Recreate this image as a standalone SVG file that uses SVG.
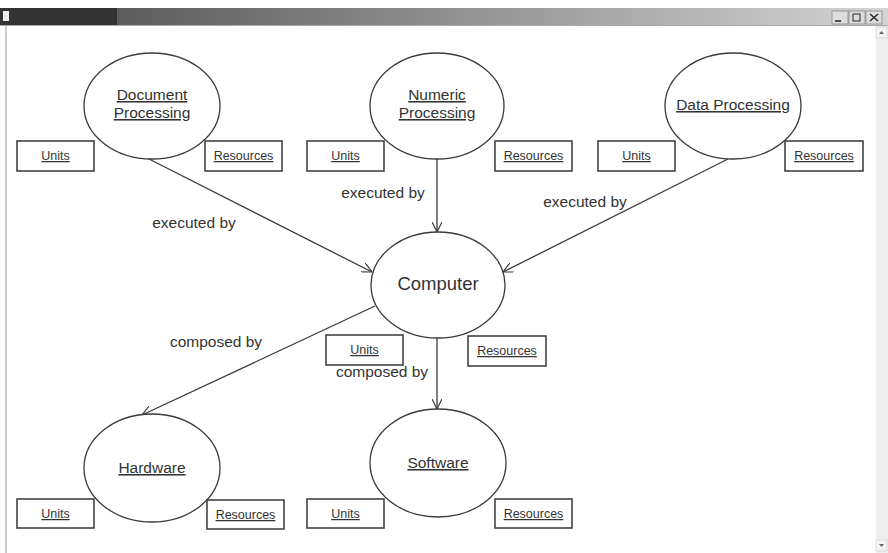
<svg xmlns="http://www.w3.org/2000/svg" width="888" height="553" viewBox="0 0 888 553">
<style>
.n{fill:#fff;stroke:#3a3a3a;stroke-width:1.3}
.b{fill:#fff;stroke:#444;stroke-width:1.6}
.t{font-family:"Liberation Sans",Arial,sans-serif;fill:#333;text-anchor:middle}
.el{font-size:15.5px;text-decoration:underline}
.bl{font-size:12.5px;text-decoration:underline}
.cl{font-size:15.5px}
.c{stroke:#3a3a3a;stroke-width:1.3;fill:none;marker-end:url(#ah)}
</style>
<defs>
<marker id="ah" viewBox="0 0 10 10" refX="10" refY="5" markerWidth="10" markerHeight="10" markerUnits="userSpaceOnUse" orient="auto">
<path d="M0,0 L10,5 L0,10" fill="none" stroke="#3a3a3a" stroke-width="1.2"/>
</marker>
<linearGradient id="tb" x1="0" x2="1" y1="0" y2="0">
<stop offset="0" stop-color="#4a4a4a"/>
<stop offset="1" stop-color="#d4d4d4"/>
</linearGradient>
</defs>
<rect x="0" y="0" width="888" height="553" fill="#fff"/>
<g id="window">
<rect x="0" y="8" width="888" height="17" fill="url(#tb)"/>
<rect x="0" y="8" width="117" height="17" fill="#333"/>
<rect x="3" y="11" width="6" height="10" fill="#eee"/>
<rect x="832" y="11" width="16" height="13" fill="#ddd" stroke="#888" stroke-width="0.8"/>
<rect x="849" y="11" width="16" height="13" fill="#ddd" stroke="#888" stroke-width="0.8"/>
<rect x="866" y="11" width="16" height="13" fill="#ddd" stroke="#888" stroke-width="0.8"/>
<line x1="835" y1="21" x2="841" y2="21" stroke="#222" stroke-width="1.5"/>
<rect x="853" y="14" width="7" height="7" fill="none" stroke="#222" stroke-width="1"/>
<path d="M870,14 L878,21 M878,14 L870,21" stroke="#222" stroke-width="1.4"/>
<line x1="0" y1="25.5" x2="888" y2="25.5" stroke="#aaa" stroke-width="1"/>
<line x1="6" y1="26" x2="6" y2="553" stroke="#aaa" stroke-width="1.2"/>
<rect x="876" y="26" width="12" height="527" fill="#eee"/>
<rect x="876" y="27" width="11" height="11" fill="#f4f4f4" stroke="#ccc" stroke-width="0.6"/>
<path d="M879,34 L881.5,31 L884,34 Z" fill="#666"/>
<rect x="876" y="540" width="11" height="11" fill="#f4f4f4" stroke="#ccc" stroke-width="0.6"/>
<path d="M879,544 L881.5,547 L884,544 Z" fill="#666"/>
</g>
<g id="connectors">
<line class="c" x1="147" y1="158" x2="372" y2="272"/>
<line class="c" x1="437" y1="159" x2="437" y2="232"/>
<line class="c" x1="728" y1="159" x2="503" y2="272"/>
<line class="c" x1="375" y1="306" x2="142" y2="415"/>
<line class="c" x1="437" y1="338" x2="437" y2="409"/>
<text class="t cl" x="194" y="228">executed by</text>
<text class="t cl" x="383" y="198">executed by</text>
<text class="t cl" x="585" y="207">executed by</text>
<text class="t cl" x="216" y="347">composed by</text>
</g>
<g id="doc">
<ellipse class="n" cx="152" cy="106" rx="68" ry="53"/>
<text class="t el" x="152" y="100">Document</text>
<text class="t el" x="152" y="118">Processing</text>
<rect class="b" x="17" y="141" width="77" height="30"/>
<text class="t bl" x="55.5" y="160">Units</text>
<rect class="b" x="205" y="141" width="77" height="30"/>
<text class="t bl" x="243.5" y="160">Resources</text>
</g>
<g id="numeric">
<ellipse class="n" cx="437" cy="106" rx="67" ry="53"/>
<text class="t el" x="437" y="100">Numeric</text>
<text class="t el" x="437" y="118">Processing</text>
<rect class="b" x="307" y="141" width="77" height="30"/>
<text class="t bl" x="345.5" y="160">Units</text>
<rect class="b" x="495" y="141" width="77" height="30"/>
<text class="t bl" x="533.5" y="160">Resources</text>
</g>
<g id="data">
<ellipse class="n" cx="733" cy="106" rx="68" ry="53"/>
<text class="t el" x="733" y="110">Data Processing</text>
<rect class="b" x="598" y="141" width="77" height="30"/>
<text class="t bl" x="636.5" y="160">Units</text>
<rect class="b" x="785" y="141" width="78" height="30"/>
<text class="t bl" x="824" y="160">Resources</text>
</g>
<g id="computer">
<ellipse class="n" cx="438" cy="285" rx="67" ry="53"/>
<text class="t" x="438" y="290" font-size="18.5">Computer</text>
<rect class="b" x="326" y="335" width="77" height="30"/>
<text class="t bl" x="364.5" y="354">Units</text>
<rect class="b" x="468" y="336" width="78" height="30"/>
<text class="t bl" x="507" y="355">Resources</text>
</g>
<text class="t cl" x="382" y="377">composed by</text>
<g id="hardware">
<ellipse class="n" cx="152" cy="468" rx="68" ry="54"/>
<text class="t el" x="152" y="473">Hardware</text>
<rect class="b" x="17" y="499" width="77" height="29"/>
<text class="t bl" x="55.5" y="518">Units</text>
<rect class="b" x="207" y="500" width="77" height="29"/>
<text class="t bl" x="245.5" y="519">Resources</text>
</g>
<g id="software">
<ellipse class="n" cx="438" cy="463" rx="68" ry="54"/>
<text class="t el" x="438" y="468">Software</text>
<rect class="b" x="307" y="499" width="77" height="29"/>
<text class="t bl" x="345.5" y="518">Units</text>
<rect class="b" x="495" y="499" width="77" height="29"/>
<text class="t bl" x="533.5" y="518">Resources</text>
</g>
</svg>
